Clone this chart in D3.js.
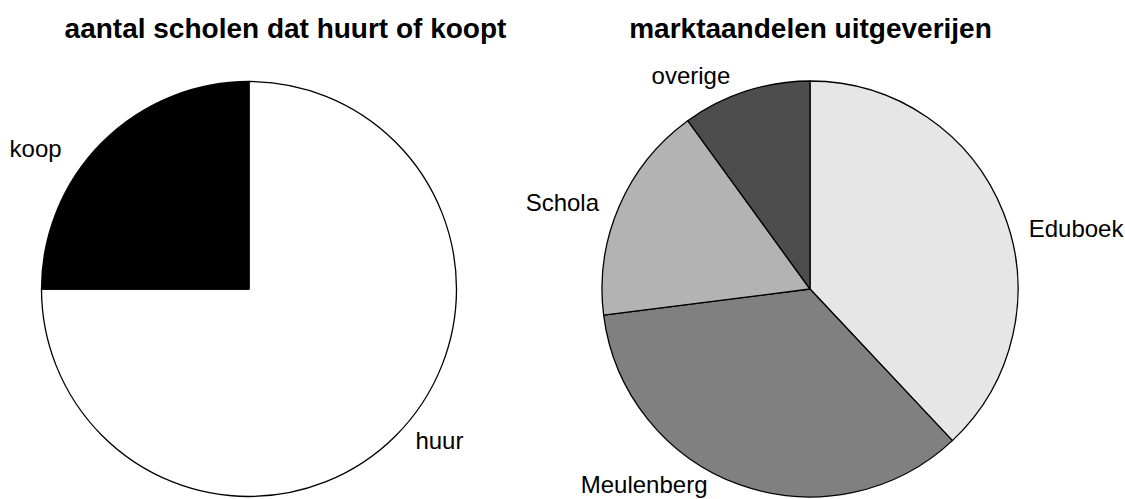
<!DOCTYPE html>
<html>
<head>
<meta charset="utf-8">
<script src="https://cdn.jsdelivr.net/npm/d3@7"></script>
<style>
  body { margin: 0; background: #fff; }
  svg { display: block; }
  text { font-family: "Liberation Sans", Arial, Helvetica, sans-serif; fill: #000; }
</style>
</head>
<body>
<svg id="canvas" width="1125" height="499"></svg>
<script>
// left pie: schools that rent or buy
let leftTitle = 'aantal scholen dat huurt of koopt'
let leftLabels = ['huur', 'koop']
let leftValues = [75, 25]
let leftColors = ['#ffffff', '#000000']

// right pie: market shares of publishers
let rightTitle = 'marktaandelen uitgeverijen'
let rightLabels = ['Eduboek', 'Meulenberg', 'Schola', 'overige']
let rightValues = [38, 35, 17, 10]
let rightColors = ['#e6e6e6', '#808080', '#b3b3b3', '#4d4d4d']

// small hand nudges for labels, like in the original
let labelNudge = {
    koop: [-26, 21], huur: [5, -10],
    Eduboek: [6, 24], Meulenberg: [-25, -20], Schola: [-1, 4], overige: [-9, 4]
}

let canvas = d3.select('#canvas')

let drawPie = (cx, cy, radius, titleX, title, labels, values, colors) => {
    let items = labels.map((l, i) => ({label: l, value: values[i], color: colors[i]}))

    let pie = d3.pie()
        .sort(null)
        .value(d => d.value)

    let arc = d3.arc().innerRadius(0).outerRadius(radius)
    let labelArc = d3.arc().innerRadius(radius * 1.1).outerRadius(radius * 1.1)

    let g = canvas.append('g')
        .attr('transform', 'translate(' + cx + ',' + cy + ')')

    g.selectAll('path')
        .data(pie(items))
        .enter()
        .append('path')
        .attr('d', arc)
        .attr('fill', d => d.data.color)
        .attr('stroke', '#000')
        .attr('stroke-width', 1.3)
        .attr('stroke-linejoin', 'round')

    g.selectAll('text')
        .data(pie(items))
        .enter()
        .append('text')
        .attr('x', d => labelArc.centroid(d)[0] + labelNudge[d.data.label][0])
        .attr('y', d => labelArc.centroid(d)[1] + labelNudge[d.data.label][1])
        .attr('dy', '0.35em')
        .attr('text-anchor', d => labelArc.centroid(d)[0] < 0 ? 'end' : 'start')
        .style('font-size', '24px')
        .text(d => d.data.label)

    canvas.append('text')
        .attr('x', titleX)
        .attr('y', 38)
        .attr('text-anchor', 'middle')
        .style('font-size', '28px')
        .style('font-weight', 'bold')
        .text(title)
}

drawPie(249, 289, 207.5, 285.5, leftTitle, leftLabels, leftValues, leftColors)
drawPie(810, 289, 208, 810.5, rightTitle, rightLabels, rightValues, rightColors)
</script>
</body>
</html>
